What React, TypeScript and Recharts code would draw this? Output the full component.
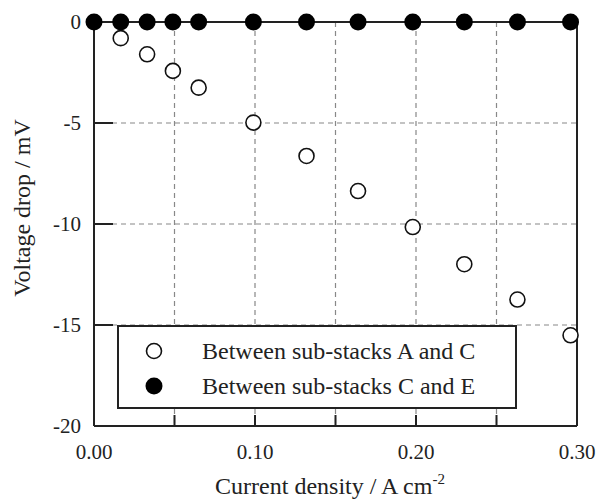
import React from "react";
import {
  ScatterChart,
  Scatter,
  XAxis,
  YAxis,
  CartesianGrid,
  ReferenceLine,
  Legend,
} from "recharts";

// current density (A cm-2) for each measurement
const densityCE = [0, 0.0166, 0.033, 0.049, 0.065, 0.099, 0.132, 0.164, 0.198, 0.23, 0.263, 0.296];
const dropCE = [0, 0, 0, 0, 0, 0, 0, 0, 0, 0, 0, 0];

const densityAC = [0.0166, 0.033, 0.049, 0.065, 0.099, 0.132, 0.164, 0.198, 0.23, 0.263, 0.296];
const dropAC = [-0.8, -1.6, -2.42, -3.25, -4.98, -6.63, -8.37, -10.15, -11.99, -13.74, -15.51];

const xTicks = [0, 0.05, 0.1, 0.15, 0.2, 0.25, 0.3];
const xTickLabels = ["0.00", "", "0.10", "", "0.20", "", "0.30"];
const yTicks = [-20, -15, -10, -5, 0];

const seriesNames = ["Between sub-stacks A and C", "Between sub-stacks C and E"];

const dataAC = densityAC.map((x, i) => ({ x, y: dropAC[i] }));
const dataCE = densityCE.map((x, i) => ({ x, y: dropCE[i] }));

const FONT = "'Liberation Serif', 'DejaVu Serif', serif";
const INK = "#222";

const XTick = (props: any) => {
  const { x, y, index } = props;
  const edge = index === 0 || index === xTicks.length - 1;
  return (
    <g>
      {!edge && <line x1={x} y1={y} x2={x} y2={y - 11} stroke={INK} strokeWidth={2} />}
      <text x={x} y={y + 33} textAnchor="middle" fontFamily={FONT} fontSize={21} fill={INK}>
        {xTickLabels[index]}
      </text>
    </g>
  );
};

const YTick = (props: any) => {
  const { x, y, payload, index } = props;
  const edge = index === 0 || index === yTicks.length - 1;
  return (
    <g>
      {!edge && <line x1={x} y1={y} x2={x + 19} y2={y} stroke={INK} strokeWidth={2} />}
      <text x={x - 13} y={y + 7} textAnchor="end" fontFamily={FONT} fontSize={21} fill={INK}>
        {payload.value}
      </text>
    </g>
  );
};

const OpenDot = (props: any) => (
  <circle cx={props.cx} cy={props.cy} r={7.5} fill="#fff" stroke="#111" strokeWidth={1.6} />
);
const FilledDot = (props: any) => <circle cx={props.cx} cy={props.cy} r={8.5} fill="#000" />;

const LegendBox = () => (
  <div
    style={{
      width: 400,
      height: 84,
      boxSizing: "border-box",
      border: `2px solid ${INK}`,
      background: "#fff",
      fontFamily: FONT,
      fontSize: 24,
      color: INK,
      position: "relative",
    }}
  >
    {seriesNames.map((name, i) => (
      <div key={name} style={{ position: "absolute", left: 0, top: 10 + i * 35, height: 28, width: 396 }}>
        <svg width={60} height={28} style={{ position: "absolute", left: 20, top: 0 }}>
          {i === 0 ? (
            <circle cx={15} cy={14} r={7.5} fill="#fff" stroke="#111" strokeWidth={1.6} />
          ) : (
            <circle cx={15} cy={14} r={8.5} fill="#000" />
          )}
        </svg>
        <span style={{ position: "absolute", left: 83, top: 0, lineHeight: "28px", whiteSpace: "nowrap" }}>
          {name}
        </span>
      </div>
    ))}
  </div>
);

export default function App() {
  return (
    <div style={{ position: "absolute", left: 0, top: 0, width: 597, height: 500, background: "#fff" }}>
      <ScatterChart width={597} height={500} margin={{ top: 22, right: 20, left: 0, bottom: 0 }}>
        <CartesianGrid stroke="#888" strokeDasharray="5 4" strokeWidth={1.2} />
        <XAxis
          type="number"
          dataKey="x"
          domain={[0, 0.3]}
          ticks={xTicks}
          height={74}
          tickSize={0}
          tickMargin={0}
          tickLine={false}
          axisLine={{ stroke: INK, strokeWidth: 2 }}
          tick={<XTick />}
          interval={0}
        />
        <YAxis
          type="number"
          dataKey="y"
          domain={[-20, 0]}
          ticks={yTicks}
          width={94}
          tickSize={0}
          tickMargin={0}
          tickLine={false}
          axisLine={{ stroke: INK, strokeWidth: 2 }}
          tick={<YTick />}
          interval={0}
        />
        <ReferenceLine y={0} stroke={INK} strokeWidth={2} />
        <ReferenceLine x={0.3} stroke={INK} strokeWidth={2} />
        <Legend
          layout="vertical"
          align="center"
          verticalAlign="middle"
          content={<LegendBox />}
          wrapperStyle={{ left: 117, top: 325, width: 400, height: 84 }}
        />
        <Scatter name={seriesNames[0]} data={dataAC} shape={<OpenDot />} isAnimationActive={false} />
        <Scatter name={seriesNames[1]} data={dataCE} shape={<FilledDot />} isAnimationActive={false} />
      </ScatterChart>
      <svg width={597} height={500} style={{ position: "absolute", left: 0, top: 0, pointerEvents: "none" }}>
        <text
          x={0}
          y={0}
          transform="translate(30 208) rotate(-90)"
          textAnchor="middle"
          fontFamily={FONT}
          fontSize={24}
          fill={INK}
        >
          Voltage drop / mV
        </text>
        <text x={330} y={494} textAnchor="middle" fontFamily={FONT} fontSize={24} fill={INK}>
          Current density / A cm
          <tspan fontSize={15} dy={-10}>-2</tspan>
        </text>
      </svg>
    </div>
  );
}
